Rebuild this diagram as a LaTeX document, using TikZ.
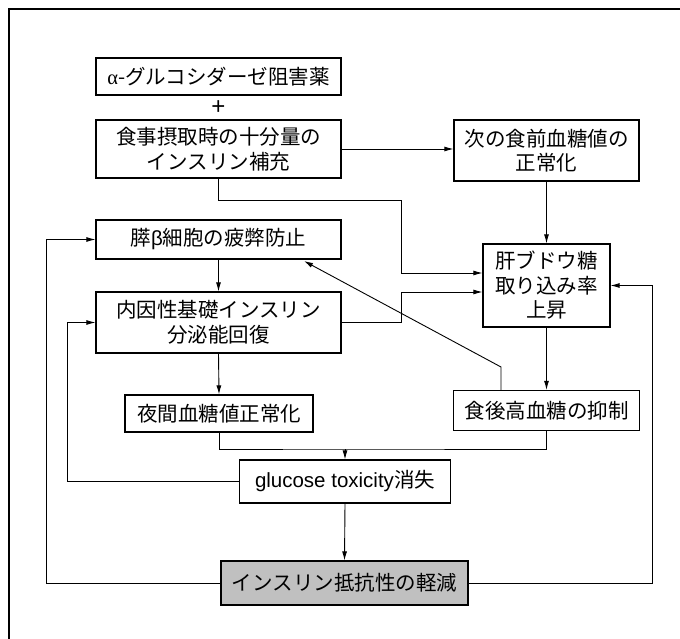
\documentclass[tikz,border=0pt]{standalone}
\usepackage{fontspec}
\setmainfont{Noto Sans CJK JP}
\newfontfamily\latinsans{Liberation Sans}
\newfontfamily\latinserif{Liberation Serif}
\usetikzlibrary{arrows.meta,calc}
\definecolor{irgray}{RGB}{192,192,192}
\tikzset{
  box/.style={draw, line width=1.2pt, inner sep=0pt, align=center,
    font=\fontsize{20.5}{24.5}\selectfont},
  conn/.style={line width=0.9pt},
  arr/.style={conn, -{Latex[length=9pt,width=5pt]}},
}
\begin{document}
\begin{tikzpicture}[x=1pt,y=-1pt]
\useasboundingbox (0,0) rectangle (680,639);
\draw[line width=1.3pt] (9,639) -- (9,9) -- (680,9);

\node[box, minimum width=245pt, minimum height=37pt] (alpha) at (218.5,76.5) {{\latinserif α}-グルコシダーゼ阻害薬};
\node[font=\latinsans\fontsize{24}{26}\selectfont] (plus) at (218.5,107.5) {+};
\node[box, minimum width=245pt, minimum height=58pt] (meal) at (218.5,149) {食事摂取時の十分量の\\インスリン補充};
\node[box, minimum width=185pt, minimum height=61pt] (next) at (546.5,150.5) {次の食前血糖値の\\正常化};
\node[box, minimum width=245pt, minimum height=39pt] (beta) at (218.5,239.5) {膵{\latinsans β}細胞の疲弊防止};
\node[box, minimum width=127pt, minimum height=83pt] (liver) at (546.5,285.5) {肝ブドウ糖\\取り込み率\\上昇};
\node[box, minimum width=245pt, minimum height=61pt] (endo) at (218.5,322.5) {内因性基礎インスリン\\分泌能回復};
\node[box, minimum width=188pt, minimum height=37pt] (night) at (219,413.5) {夜間血糖値正常化};
\node[box, minimum width=186pt, minimum height=40pt] (post) at (546.5,410.5) {食後高血糖の抑制};
\node[box, minimum width=211pt, minimum height=43pt] (gluc) at (345,481.5) {{\latinsans glucose toxicity}消失};
\node[box, minimum width=247pt, minimum height=44pt, fill=irgray] (ir) at (344.5,583) {インスリン抵抗性の軽減};

\coordinate (j1) at (401,200);
\coordinate (m) at (345,449);
\coordinate (d1) at (501,367);
\coordinate (dtip) at (304,261);

\draw[arr] (meal.east) -- (meal.east -| next.west);
\draw[arr] (meal.south) |- (j1) |- ($(liver.west)+(0,-12.5)$);
\draw[arr] (endo.east) -| ($(j1)+(0,92)$) -- ($(liver.west)+(0,6.5)$);
\draw[arr] (next.south) -- (liver.north);
\draw[arr] (liver.south) -- (post.north);
\draw[arr] (beta.south) -- (endo.north);
\draw[arr] (endo.south) -- (night.north);
\draw[arr] (post.north -| d1) -- (d1) -- (dtip);
\draw[conn] (night.south) |- (m) -| (post.south);
\draw[arr] (m) -- (gluc.north);
\draw[arr] (gluc.west) -| ($(endo.west)+(-28,0)$) -- (endo.west);
\draw[arr] (gluc.south) -- (ir.north);
\draw[arr] (ir.west) -| ($(beta.west)+(-49,0)$) -- (beta.west);
\draw[arr] (ir.east) -| ($(liver.east)+(42,0)$) -- (liver.east);
\end{tikzpicture}
\end{document}
